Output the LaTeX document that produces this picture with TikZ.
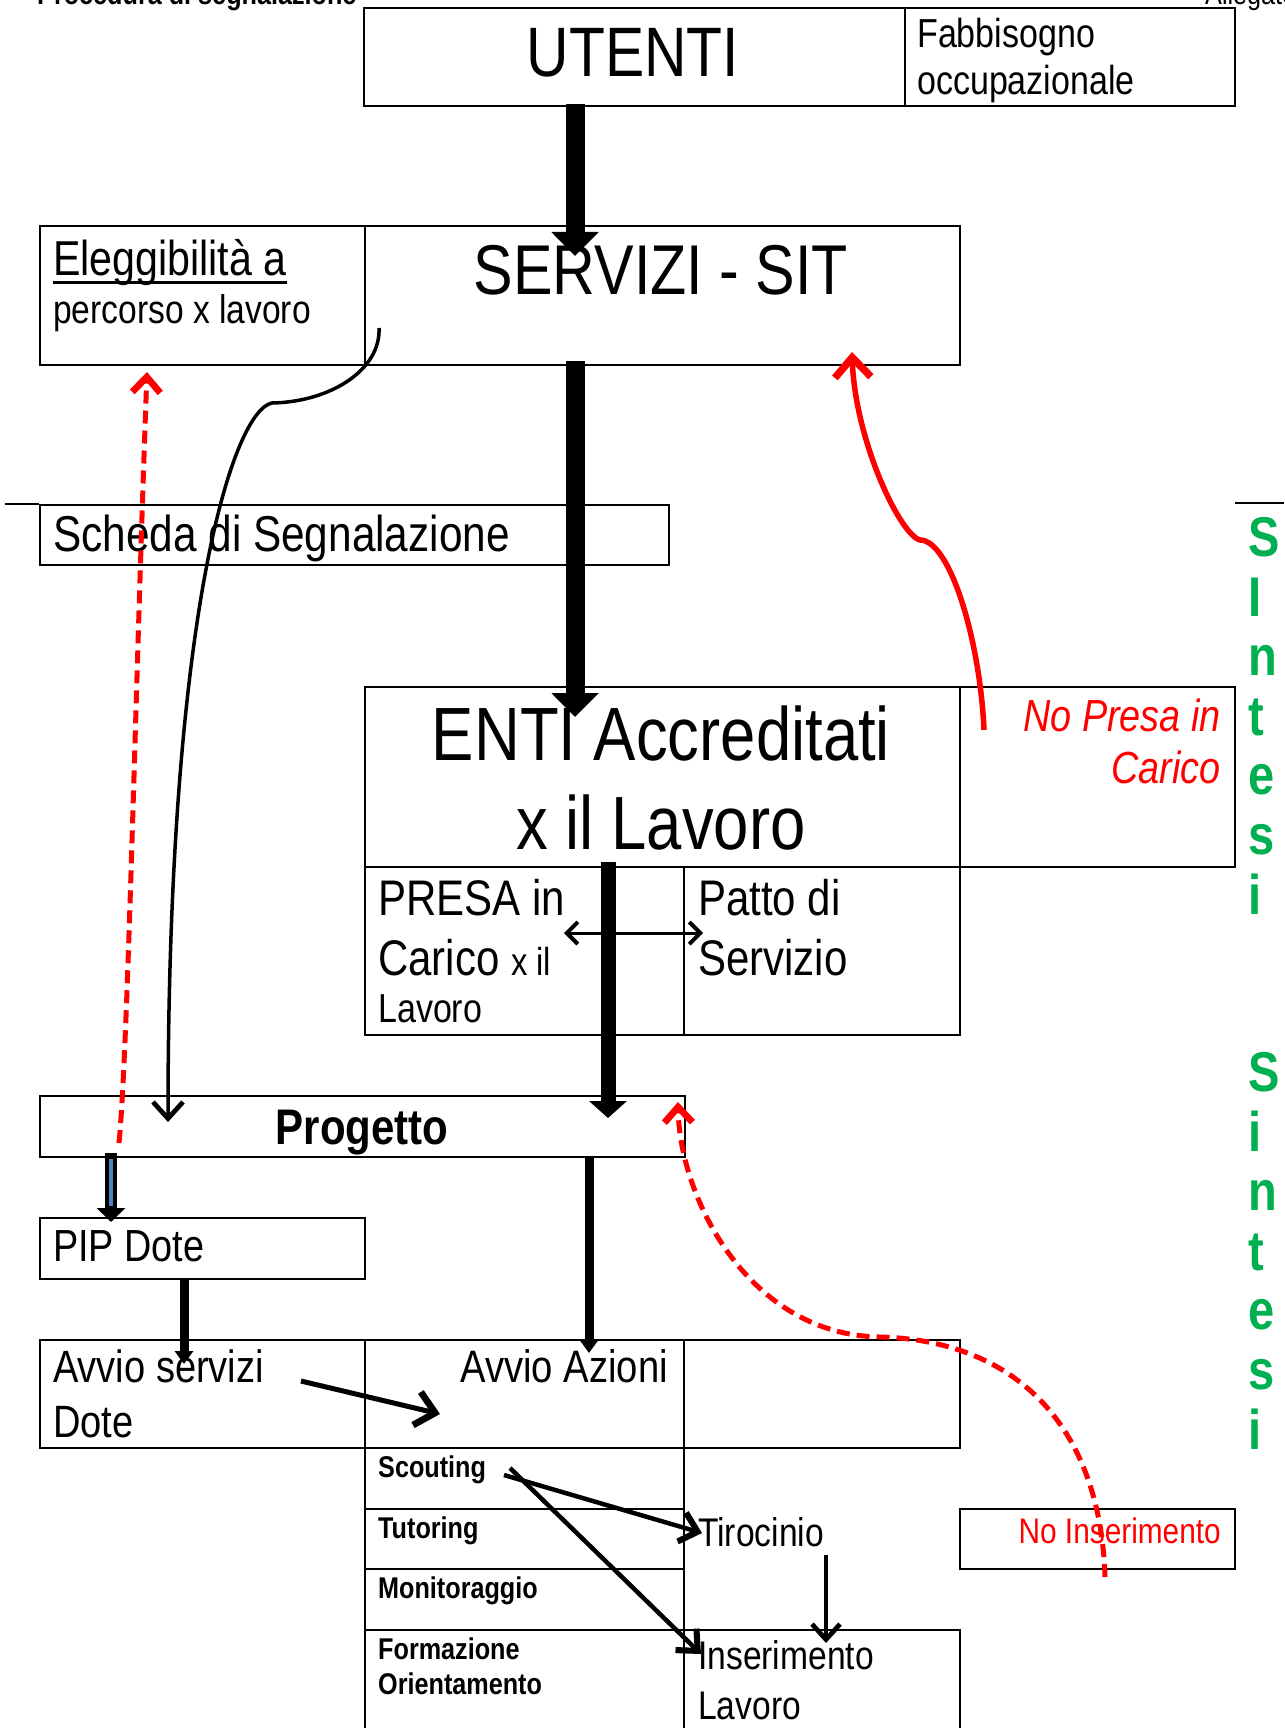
\documentclass[tikz,border=0pt]{standalone}
\usepackage{fontspec}
\setmainfont[FakeStretch=0.84]{Liberation Sans}
\usetikzlibrary{arrows.meta}
\definecolor{sgreen}{HTML}{00B050}
\definecolor{pipblue}{HTML}{4F81BD}
\definecolor{sred}{HTML}{FF0000}
\newcommand{\fs}[1]{\fontsize{#1}{#1}\selectfont}
\begin{document}
\begin{tikzpicture}[x=1pt,y=-1pt,
  cell/.style={draw, line width=2.4pt, inner sep=0pt, anchor=north west},
  tl/.style={inner sep=0pt, anchor=base west},
  tr/.style={inner sep=0pt, anchor=base east},
  tc/.style={inner sep=0pt, anchor=base},
  bigarrow/.style={line width=19pt, -{Triangle[width=46pt,length=24pt]}},
  midarrow/.style={line width=15pt, -{Triangle[width=37pt,length=17pt]}},
  smallarrow/.style={line width=9pt, -{Triangle[width=18pt,length=13pt]}},
  barb/.style={-{Straight Barb[width=#1,length=0.55*#1,line width=0pt 1.35]}},
  redsolid/.style={draw=sred, line width=5.5pt},
  reddash/.style={draw=sred, line width=5pt, dash pattern=on 13pt off 7pt},
  sintesi/.style={inner sep=0pt, anchor=base west, align=left, text=sgreen,
    font=\bfseries\fontsize{56}{59.6}\selectfont}
]
\useasboundingbox (0,0) rectangle (1284,1728);
\fill[white] (0,0) rectangle (1284,1728);

% cut header texts
\node[tl, font=\bfseries\fs{30}] (hdrL) at (37,5) {Procedura di segnalazione};
\node[tl, font=\fs{30}] (hdrR) at (1205,5) {Allegato};

% boxes
\node[cell, minimum width=541pt, minimum height=98pt] (utenti) at (363,7) {};
\node[cell, minimum width=330pt, minimum height=98pt] (fabb) at (904,7) {};
\node[cell, minimum width=325pt, minimum height=139pt] (eleg) at (39,225) {};
\node[cell, minimum width=595pt, minimum height=139pt] (serv) at (364,225) {};
\node[cell, minimum width=629pt, minimum height=60pt] (scheda) at (39,504) {};
\node[cell, minimum width=595pt, minimum height=180pt] (enti) at (364,686) {};
\node[cell, minimum width=275pt, minimum height=180pt] (nopresa) at (959,686) {};
\node[cell, minimum width=319pt, minimum height=168pt] (presa) at (364,866) {};
\node[cell, minimum width=276pt, minimum height=168pt] (patto) at (683,866) {};
\node[cell, minimum width=645pt, minimum height=61pt] (progetto) at (39,1095) {};
\node[cell, minimum width=325pt, minimum height=61pt] (pip) at (39,1217) {};
\node[cell, minimum width=325pt, minimum height=108pt] (avvserv) at (39,1339) {};
\node[cell, minimum width=319pt, minimum height=108pt] (avvaz) at (364,1339) {};
\node[cell, minimum width=276pt, minimum height=108pt] (empty) at (683,1339) {};
\node[cell, minimum width=319pt, minimum height=61pt] (scout) at (364,1447) {};
\node[cell, minimum width=319pt, minimum height=60pt] (tutor) at (364,1508) {};
\node[cell, minimum width=319pt, minimum height=61pt] (monit) at (364,1568) {};
\node[cell, minimum width=319pt, minimum height=115pt] (form) at (364,1629) {};
\node[cell, minimum width=276pt, minimum height=115pt] (inser) at (683,1629) {};
\node[cell, minimum width=275pt, minimum height=60pt] (noins) at (959,1508) {};

% stray rule at the Scheda level
\coordinate (ruleL) at (5,504);
\coordinate (ruleR1) at (1235,503);
\coordinate (ruleR2) at (1284,503);
\draw[line width=1.5pt] (ruleL) -- (scheda.north west);
\draw[line width=1.5pt] (ruleR1) -- (ruleR2);

% texts
\node[tc, font=\fs{70}] (tUtenti) at (633,77) {UTENTI};
\node[tl, font=\fs{40.5}] (tFab1) at (917,48) {Fabbisogno};
\node[tl, font=\fs{40.5}] (tFab2) at (917,95) {occupazionale};
\node[tl, font=\fs{49}] (tEleg1) at (53,275) {Eleggibilità a};
\draw[line width=3pt] ([yshift=-7pt]tEleg1.base west) -- ([yshift=-7pt]tEleg1.base east);
\node[tl, font=\fs{40}] (tEleg2) at (53,323) {percorso x lavoro};
\node[tc, font=\fs{70.5}] (tServ) at (661,294) {SERVIZI - SIT};
\node[tl, font=\fs{50.4}] (tScheda) at (53,551) {Scheda di Segnalazione};
\node[tc, font=\fs{75.5}] (tEnti1) at (661,760) {ENTI Accreditati};
\node[tc, font=\fs{75.5}] (tEnti2) at (661,849) {x il Lavoro};
\node[tr, font=\itshape\fs{45}, text=sred] (tNoP1) at (1221,731) {No Presa in};
\node[tr, font=\itshape\fs{45}, text=sred] (tNoP2) at (1221,783) {Carico};
\node[tl, font=\fs{50}] (tPresa1) at (378,915) {PRESA in};
\node[tl, font=\fs{50}] (tPresa2) at (378,975) {Carico {\fs{39}x il}};
\node[tl, font=\fs{40.5}] (tPresa3) at (378,1022) {Lavoro};
\node[tl, font=\fs{50}] (tPatto1) at (698,915) {Patto di};
\node[tl, font=\fs{50}] (tPatto2) at (698,975) {Servizio};
\node[tc, font=\bfseries\fs{50}] (tProg) at (362,1144) {Progetto};
\node[tl, font=\fs{45}] (tPip) at (53,1261) {PIP Dote};
\node[tl, font=\fs{45.3}] (tAvvS1) at (53,1382) {Avvio servizi};
\node[tl, font=\fs{45.3}] (tAvvS2) at (53,1437) {Dote};
\node[tr, font=\fs{45.5}] (tAvvA) at (668,1382) {Avvio Azioni};
\node[tl, font=\bfseries\fs{30}] (tScout) at (378,1477) {Scouting};
\node[tl, font=\bfseries\fs{30}] (tTutor) at (378,1538) {Tutoring};
\node[tl, font=\bfseries\fs{30}] (tMonit) at (378,1598) {Monitoraggio};
\node[tl, font=\bfseries\fs{30}] (tForm1) at (378,1659) {Formazione};
\node[tl, font=\bfseries\fs{30}] (tForm2) at (378,1694) {Orientamento};
\node[tl, font=\fs{40}] (tTiro) at (698,1546) {Tirocinio};
\node[tl, font=\fs{40}] (tIns1) at (698,1669) {Inserimento};
\node[tl, font=\fs{40}] (tIns2) at (698,1719) {Lavoro};
\node[tr, font=\fs{35.5}, text=sred] (tNoIns) at (1221,1543) {No Inserimento};
% the base anchor of these stacked nodes is the baseline of their last line
\node[sintesi] (sint1) at (1248,914) {S\\I\\n\\t\\e\\s\\i};
\node[sintesi] (sint2) at (1248,1449) {S\\i\\n\\t\\e\\s\\i};

% connector end points
\coordinate (a1s) at (575,104);  \coordinate (a1e) at (575,256);
\coordinate (a2s) at (575,361);  \coordinate (a2e) at (575,717);
\coordinate (a3s) at (608,862);  \coordinate (a3e) at (608,1118);
\coordinate (a4s) at (589,1156); \coordinate (a4e) at (589,1353);
\coordinate (a5s) at (184,1278); \coordinate (a5e) at (184,1364);
\coordinate (a6s) at (111,1153); \coordinate (a6e) at (111,1222);
\coordinate (a7s) at (301,1381); \coordinate (a7e) at (440,1414);
\coordinate (a8s) at (504,1475); \coordinate (a8e) at (702,1533);
\coordinate (a9s) at (510,1468); \coordinate (a9e) at (701,1654);
\coordinate (a10s) at (826,1555); \coordinate (a10e) at (826,1643);
\coordinate (a11s) at (564,933); \coordinate (a11e) at (703,933);
\coordinate (c1s) at (379,328);  \coordinate (c1k) at (272,403); \coordinate (c1e) at (168,1122);
\coordinate (r1s) at (984,730);  \coordinate (r1k) at (920,540); \coordinate (r1e) at (852,352);
\coordinate (r2s) at (119,1143); \coordinate (r2e) at (147,372);
\coordinate (r3s) at (1105,1577); \coordinate (r3k) at (880,1337); \coordinate (r3e) at (678,1102);

% thick black arrows
\draw[bigarrow] (a1s) -- (a1e);
\draw[bigarrow] (a2s) -- (a2e);
\draw[midarrow] (a3s) -- (a3e);
\draw[smallarrow] (a4s) -- (a4e);
\draw[smallarrow] (a5s) -- (a5e);
\draw[line width=12pt, -{Triangle[width=28pt,length=14pt]}] (a6s) -- (a6e);
\draw[pipblue, line width=3.5pt, shorten <=6pt, shorten >=16pt] (a6s) -- (a6e);

% thin black arrows
\draw[line width=5pt, barb=34pt] (a7s) -- (a7e);
\draw[line width=4.5pt, barb=30pt] (a8s) -- (a8e);
\draw[line width=4.5pt, barb=30pt] (a9s) -- (a9e);
\draw[line width=3.5pt, barb=28pt] (a10s) -- (a10e);
\draw[line width=3pt, {Straight Barb[width=22pt,length=11pt,line width=0pt 1.3]}-{Straight Barb[width=22pt,length=11pt,line width=0pt 1.3]}] (a11s) -- (a11e);
\draw[line width=3.5pt, barb=30pt] (c1s) .. controls (381,370) and (330,402) .. (c1k)
   .. controls (235,410) and (168,600) .. (c1e);

% red connectors
\draw[redsolid, barb=36pt] (r1s) .. controls (980,640) and (950,540) .. (r1k)
   .. controls (900,535) and (855,440) .. (r1e);
\draw[reddash, barb=28pt] (r2s) .. controls (128,1050) and (135,700) .. (r2e);
\draw[reddash, barb=28pt] (r3s) .. controls (1100,1420) and (1010,1340) .. (r3k)
   .. controls (750,1335) and (680,1200) .. (r3e);
\end{tikzpicture}
\end{document}
